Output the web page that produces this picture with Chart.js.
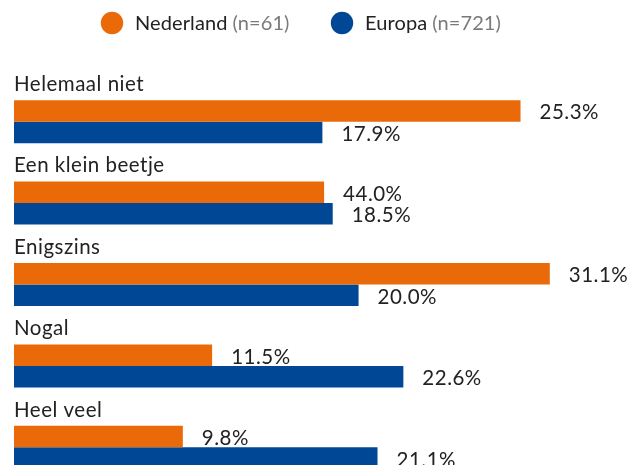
<!DOCTYPE html>
<html lang="nl">
<head>
  <meta charset="UTF-8" />
  <title>Nederland vs Europa</title>
  <script src="https://cdn.jsdelivr.net/npm/chart.js"></script>
  <style>
    html, body { margin: 0; padding: 0; background: #fff; overflow: hidden; }
    #wrap { position: relative; width: 627px; height: 500px; }
  </style>
</head>
<body>
  <div id="wrap"><canvas id="chart"></canvas></div>

  <script>
    // data
    const categories = ["Helemaal niet", "Een klein beetje", "Enigszins", "Nogal", "Heel veel"];
    const nlValues   = [29.4, 18.0, 31.1, 11.5, 9.8];   // bar lengths as drawn
    const nlLabels   = ["25.3%", "44.0%", "31.1%", "11.5%", "9.8%"];
    const euValues   = [17.9, 18.5, 20.0, 22.6, 21.1];
    const euLabels   = ["17.9%", "18.5%", "20.0%", "22.6%", "21.1%"];
    const seriesNames = ["Nederland", "Europa"];
    const seriesN     = ["(n=61)", "(n=721)"];

    const ORANGE = "#EA6A0A";
    const BLUE   = "#004895";
    const FONT   = "Lato, 'Open Sans', sans-serif";

    // legend, category titles and value labels
    const textPlugin = {
      id: "texts",
      afterDatasetsDraw(chart) {
        const ctx = chart.ctx;
        ctx.save();

        // legend
        const legend = [
          { color: ORANGE, cx: 112, name: seriesNames[0], n: seriesN[0] },
          { color: BLUE,   cx: 342, name: seriesNames[1], n: seriesN[1] }
        ];
        ctx.font = "20px " + FONT;
        ctx.letterSpacing = "0.1px";
        ctx.textBaseline = "alphabetic";
        legend.forEach(l => {
          ctx.beginPath();
          ctx.fillStyle = l.color;
          ctx.arc(l.cx, 23, 11.2, 0, Math.PI * 2);
          ctx.fill();
          ctx.fillStyle = "#222";
          ctx.textAlign = "left";
          ctx.fillText(l.name, l.cx + 23, 30);
          const w = ctx.measureText(l.name).width;
          ctx.fillStyle = "#7a7a7a";
          ctx.fillText(l.n, l.cx + 23 + w + 5, 30);
        });

        // category titles above each group
        const yScale = chart.scales.y;
        const band = (yScale.getPixelForValue(1) - yScale.getPixelForValue(0));
        ctx.fillStyle = "#222";
        ctx.font = "20.5px " + FONT;
        ctx.letterSpacing = "0.5px";
        categories.forEach((c, i) => {
          const top = yScale.getPixelForValue(i) - band / 2;
          ctx.fillText(c, chart.chartArea.left, top + 10);
        });

        // value labels right of the bars
        ctx.font = "20.5px " + FONT;
        ctx.letterSpacing = "0.5px";
        const labels = [nlLabels, euLabels];
        chart.data.datasets.forEach((ds, di) => {
          chart.getDatasetMeta(di).data.forEach((bar, i) => {
            ctx.fillText(labels[di][i], bar.x + 19, bar.y + 8.5);
          });
        });

        ctx.restore();
      }
    };

    new Chart(document.getElementById("chart"), {
      type: "bar",
      data: {
        labels: categories,
        datasets: [
          { label: seriesNames[0], data: nlValues, backgroundColor: ORANGE },
          { label: seriesNames[1], data: euValues, backgroundColor: BLUE }
        ]
      },
      options: {
        indexAxis: "y",
        responsive: true,
        maintainAspectRatio: false,
        animation: false,
        datasets: { bar: { categoryPercentage: 0.528, barPercentage: 1.0 } },
        layout: { padding: { top: 81, bottom: 12, left: 14, right: 10 } },
        scales: {
          x: { display: false, min: 0, max: 35 },
          y: { display: false }
        },
        plugins: {
          legend: { display: false },
          tooltip: { enabled: false }
        }
      },
      plugins: [textPlugin]
    });
  </script>
</body>
</html>
